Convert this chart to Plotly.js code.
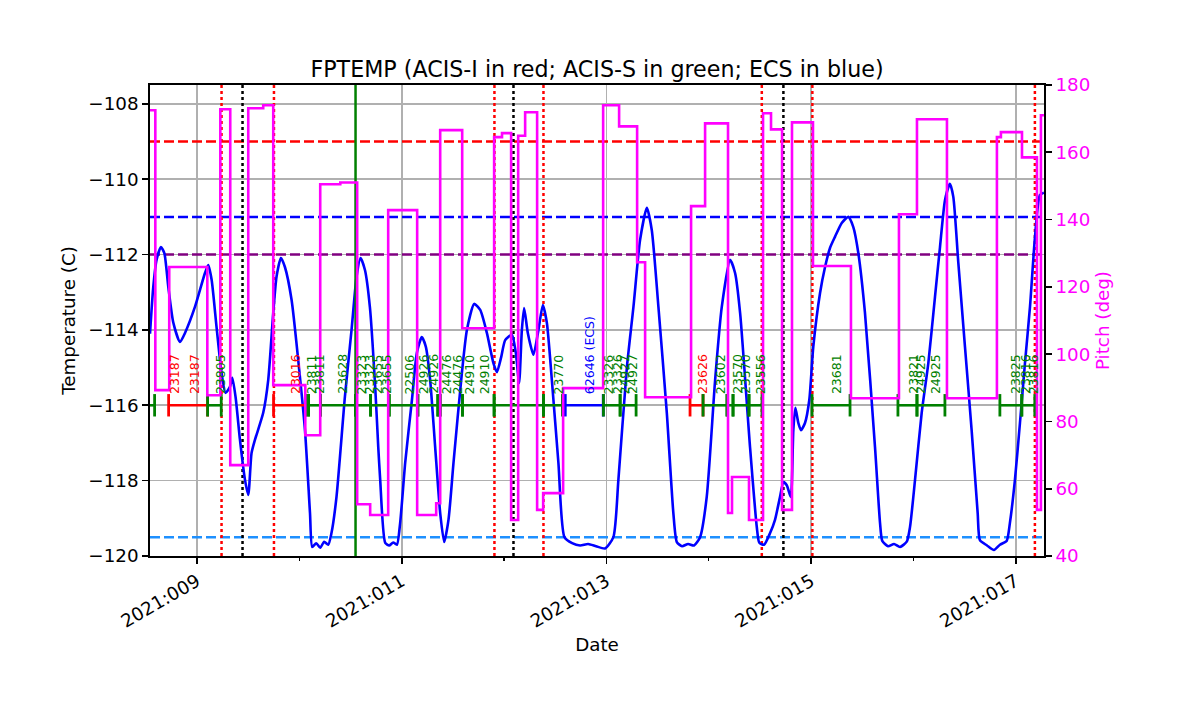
<!DOCTYPE html>
<html><head><meta charset="utf-8">
<script src="https://cdn.plot.ly/plotly-3.0.1.min.js"></script>
<style>html,body{margin:0;padding:0;background:#fff}#chart{width:1200px;height:714px}</style>
</head><body><div id="chart"></div>
<script>
// ---- Data (day of year 2021) ----
const tickDays = [9, 11, 13, 15, 17];
const tickLabels = ['2021:009', '2021:011', '2021:013', '2021:015', '2021:017'];
const minorDays = [10, 12, 14, 16];
const timeRange = [8.541, 17.275];
const tempRange = [-120, -107.5];
const pitchRange = [40, 180];

// FPTEMP (C)
const tempTime = [8.541, 8.573, 8.605, 8.648, 8.681, 8.720, 8.769, 8.834, 8.883, 8.980, 9.078, 9.110, 9.143, 9.191, 9.240, 9.279, 9.322, 9.345, 9.377, 9.420, 9.469, 9.501, 9.533, 9.566, 9.647, 9.696, 9.745, 9.777, 9.820, 9.859, 9.924, 9.989, 10.055, 10.104, 10.126, 10.165, 10.204, 10.243, 10.282, 10.314, 10.363, 10.445, 10.510, 10.559, 10.598, 10.641, 10.689, 10.741, 10.771, 10.790, 10.839, 10.878, 10.917, 10.953, 10.985, 11.034, 11.100, 11.148, 11.197, 11.236, 11.278, 11.327, 11.376, 11.415, 11.457, 11.506, 11.588, 11.637, 11.708, 11.767, 11.832, 11.896, 11.930, 11.972, 12.011, 12.076, 12.115, 12.147, 12.174, 12.196, 12.232, 12.287, 12.336, 12.379, 12.418, 12.467, 12.531, 12.590, 12.665, 12.743, 12.821, 12.899, 12.987, 13.068, 13.117, 13.199, 13.264, 13.329, 13.395, 13.443, 13.508, 13.590, 13.654, 13.688, 13.739, 13.798, 13.856, 13.915, 13.980, 14.062, 14.127, 14.208, 14.257, 14.306, 14.403, 14.469, 14.494, 14.540, 14.599, 14.647, 14.696, 14.729, 14.762, 14.801, 14.826, 14.846, 14.875, 14.901, 14.940, 14.982, 15.021, 15.087, 15.136, 15.185, 15.233, 15.299, 15.363, 15.412, 15.461, 15.526, 15.624, 15.673, 15.695, 15.751, 15.810, 15.868, 15.934, 15.966, 16.015, 16.080, 16.145, 16.210, 16.259, 16.308, 16.356, 16.389, 16.438, 16.503, 16.568, 16.627, 16.649, 16.718, 16.786, 16.845, 16.910, 16.942, 16.991, 17.040, 17.089, 17.138, 17.187, 17.235, 17.274];
const tempValues = [-114.10, -112.86, -112.14, -111.80, -111.96, -112.86, -113.81, -114.32, -114.08, -113.39, -112.49, -112.28, -112.67, -113.92, -115.14, -115.67, -115.51, -115.27, -115.78, -116.92, -117.98, -118.38, -117.27, -116.92, -116.20, -115.33, -113.55, -112.59, -112.09, -112.33, -113.20, -114.80, -116.66, -118.86, -119.76, -119.66, -119.78, -119.62, -119.70, -119.39, -118.43, -115.78, -114.00, -112.59, -112.09, -112.41, -113.39, -115.51, -117.11, -117.98, -119.65, -119.72, -119.64, -119.70, -119.12, -117.53, -115.86, -114.61, -114.19, -114.45, -115.33, -117.11, -118.86, -119.63, -119.04, -117.53, -115.14, -114.00, -113.31, -113.47, -114.08, -114.88, -115.12, -114.72, -114.27, -114.13, -114.61, -115.41, -114.00, -113.42, -114.08, -114.66, -114.00, -113.34, -113.81, -115.33, -117.53, -119.50, -119.66, -119.72, -119.68, -119.74, -119.80, -119.50, -117.98, -115.02, -113.39, -111.61, -110.76, -111.35, -113.39, -116.20, -118.86, -119.63, -119.74, -119.68, -119.72, -119.50, -118.43, -115.33, -113.39, -112.14, -112.49, -113.55, -117.11, -119.23, -119.65, -119.70, -119.39, -119.04, -118.43, -118.04, -118.12, -118.43, -116.66, -116.07, -116.47, -116.66, -116.47, -115.86, -114.45, -113.02, -112.33, -111.82, -111.53, -111.16, -111.00, -111.27, -111.96, -113.55, -117.11, -119.12, -119.60, -119.74, -119.68, -119.76, -119.62, -119.23, -117.98, -116.20, -114.88, -113.12, -111.80, -110.55, -110.12, -110.47, -112.22, -114.45, -116.66, -118.86, -119.58, -119.72, -119.84, -119.70, -119.60, -119.12, -117.98, -116.47, -114.88, -113.39, -111.53, -110.42, -110.36];

// Pitch (deg), step changes
const pitchTime = [8.541, 8.593, 8.729, 9.101, 9.228, 9.325, 9.501, 9.647, 9.745, 10.058, 10.204, 10.400, 10.565, 10.692, 10.868, 11.151, 11.337, 11.376, 11.591, 11.903, 11.980, 12.069, 12.138, 12.206, 12.323, 12.382, 12.577, 12.968, 13.124, 13.300, 13.378, 13.827, 13.964, 14.188, 14.227, 14.393, 14.530, 14.608, 14.716, 14.813, 15.018, 15.389, 15.858, 16.034, 16.327, 16.815, 16.854, 17.060, 17.206, 17.245, 17.274];
const pitchValues = [172.5, 89.3, 125.9, 87.8, 172.8, 67.0, 173.1, 174.0, 90.8, 75.9, 150.5, 151.0, 55.4, 52.2, 142.8, 52.2, 55.7, 166.6, 107.7, 164.5, 165.7, 50.7, 164.9, 171.9, 53.7, 58.7, 89.9, 174.0, 167.7, 127.3, 87.2, 144.0, 168.6, 52.8, 63.5, 50.7, 171.6, 166.8, 53.7, 168.9, 126.2, 86.9, 141.6, 169.8, 86.9, 164.5, 166.0, 158.5, 53.7, 171.0, 171.0];

// Observation intervals (I = ACIS-I, S = ACIS-S, E = ECS)
const obsLevel = -116;
const obsStart = [8.45, 8.723, 9.104, 9.748, 10.061, 10.090, 10.207, 10.549, 10.696, 10.878, 11.158, 11.353, 11.376, 11.594, 11.903, 12.385, 12.598, 12.971, 13.134, 13.817, 13.944, 14.178, 14.237, 14.393, 15.009, 15.848, 16.034, 16.844, 17.058];
const obsStop  = [8.586, 9.104, 9.237, 10.061, 10.090, 10.207, 10.549, 10.696, 10.878, 11.158, 11.353, 11.376, 11.594, 11.903, 12.385, 12.570, 12.969, 13.134, 13.290, 13.944, 14.178, 14.237, 14.393, 14.520, 15.380, 16.034, 16.307, 17.058, 17.185];
const obsInst  = ['S','I','S','I','S','S','S','S','S','S','S','S','S','S','S','S','E','S','S','I','S','S','S','S','S','S','S','S','S'];

// Obsid labels
const labelLevel = -115.73;
const labelText = ['23187','23187','23805','23016','23811','23811','23628','23323','23323','23655','23655','22506','24926','24926','24476','24476','24910','24910','23770','62646 (ECS)','23326','23326','24927','24927','23626','23602','23570','23570','23556','23681','23821','24925','24925','23825','23816','23816'];
const labelTime = [8.775, 8.971, 9.225, 9.957, 10.116, 10.191, 10.422, 10.607, 10.683, 10.761, 10.846, 11.076, 11.210, 11.311, 11.435, 11.545, 11.662, 11.806, 12.531, 12.831, 13.020, 13.102, 13.176, 13.248, 13.932, 14.110, 14.273, 14.354, 14.501, 15.243, 15.992, 16.063, 16.210, 16.991, 17.089, 17.170];
const labelInst = ['I','I','S','I','S','S','S','S','S','S','S','S','S','S','S','S','S','S','S','E','S','S','S','S','I','S','S','S','S','S','S','S','S','S','S','S'];

// Limit lines (C) and event times
const limitValues = [-109, -111, -112, -119.5];
const acisITimes = [9.240, 9.752, 11.906, 12.385, 14.518, 15.012, 17.186];
const blackTimes = [9.445, 12.092, 14.729];
const greenTimes = [10.549];

// ---- Styles ----
const instColor = {I: '#ff0000', S: '#008000', E: '#0000ff'};
const limitColors = ['#ff0000', '#0000ff', '#800080', '#1e90ff'];
const FONT = 'DejaVu Sans';

const traces = [];
limitValues.forEach((v, i) => traces.push({x: timeRange, y: [v, v], mode: 'lines', line: {color: limitColors[i], width: 2.5, dash: '10px,4px'}, hoverinfo: 'skip'}));
const vline = (t, color, dash) => ({x: [t, t], y: tempRange, mode: 'lines', line: {color: color, width: 2.5, dash: dash}, hoverinfo: 'skip'});
acisITimes.forEach(t => traces.push(vline(t, '#ff0000', '3px,3px')));
blackTimes.forEach(t => traces.push(vline(t, '#000000', '3px,3px')));
traces.push({x: tempTime, y: tempValues, mode: 'lines', line: {color: '#0000ff', width: 2.6, shape: 'spline', smoothing: 0.6}, hoverinfo: 'skip'});
obsStart.forEach((s, i) => {
  const c = instColor[obsInst[i]];
  traces.push({x: [s, obsStop[i]], y: [obsLevel, obsLevel], mode: 'lines+markers',
    line: {color: c, width: 2.6}, marker: {symbol: 'line-ns', size: 16, color: c, line: {color: c, width: 2.8}}, hoverinfo: 'skip'});
});
greenTimes.forEach(t => traces.push(vline(t, '#008000', 'solid')));
traces.push({x: pitchTime, y: pitchValues, yaxis: 'y2', mode: 'lines', line: {color: '#ff00ff', width: 2.6, shape: 'hv'}, hoverinfo: 'skip'});

const annotations = labelText.map((t, i) => ({
  x: labelTime[i], y: labelLevel, xref: 'x', yref: 'y', text: t, showarrow: false,
  textangle: -90, xanchor: 'center', yanchor: 'bottom', borderpad: 0,
  font: {family: FONT, size: 12.5, color: instColor[labelInst[i]]}
}));

const axisCommon = {ticks: 'outside', ticklen: 6, tickwidth: 1.6, tickcolor: '#000', showline: true, linecolor: '#000', linewidth: 1.8, zeroline: false, automargin: false, tickfont: {family: FONT, size: 18.3, color: '#000'}};

const layout = {
  width: 1200, height: 714,
  margin: {l: 150, r: 156, t: 85, b: 158, pad: 0},
  paper_bgcolor: '#ffffff', plot_bgcolor: '#ffffff',
  showlegend: false,
  font: {family: FONT, size: 18.3, color: '#000'},
  title: {text: 'FPTEMP (ACIS-I in red; ACIS-S in green; ECS in blue)', font: {family: FONT, size: 22.2, color: '#000'},
          xref: 'paper', x: 0.5, xanchor: 'center', yref: 'container', y: 1 - 69 / 714, yanchor: 'middle'},
  xaxis: Object.assign({}, axisCommon, {
    range: timeRange, tickmode: 'array', tickvals: tickDays, ticktext: tickLabels, tickangle: -30,
    mirror: true, showgrid: true, gridcolor: '#b0b0b0', gridwidth: 1.6,
    minor: {tickmode: 'array', tickvals: minorDays, ticks: 'outside', ticklen: 3.5, tickwidth: 1.4, tickcolor: '#000', showgrid: false},
    title: {text: 'Date', font: {family: FONT, size: 18.3}}
  }),
  yaxis: Object.assign({}, axisCommon, {
    range: tempRange, tickmode: 'linear', tick0: -120, dtick: 2, showgrid: true, gridcolor: '#b0b0b0', gridwidth: 1.6,
    title: {text: 'Temperature (C)', font: {family: FONT, size: 18.3}, standoff: 8}
  }),
  yaxis2: Object.assign({}, axisCommon, {
    overlaying: 'y', side: 'right', range: pitchRange, tickmode: 'linear', tick0: 40, dtick: 20, showgrid: false,
    tickfont: {family: FONT, color: '#ff00ff', size: 18.3},
    title: {text: 'Pitch (deg)', font: {family: FONT, size: 18.3, color: '#ff00ff'}}
  }),
  annotations: annotations
};

Plotly.newPlot('chart', traces, layout, {staticPlot: true, displayModeBar: false});
</script></body></html>
